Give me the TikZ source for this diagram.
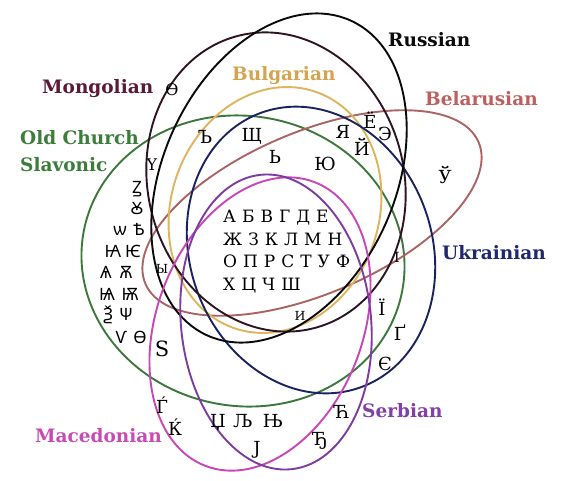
\documentclass[tikz,border=0pt]{standalone}
\usepackage{fontspec}
\setmainfont{DejaVu Serif}
\newfontfamily\ocsfont{Noto Sans}
\definecolor{rusC}{RGB}{10,10,10}
\definecolor{monC}{RGB}{45,20,35}
\definecolor{monL}{RGB}{90,25,55}
\definecolor{bulC}{RGB}{222,180,95}
\definecolor{bulL}{RGB}{212,165,80}
\definecolor{belC}{RGB}{170,100,100}
\definecolor{belL}{RGB}{190,95,95}
\definecolor{ocsC}{RGB}{60,120,60}
\definecolor{ocsL}{RGB}{60,125,60}
\definecolor{ukrC}{RGB}{25,35,95}
\definecolor{ukrL}{RGB}{30,40,110}
\definecolor{serC}{RGB}{125,60,160}
\definecolor{serL}{RGB}{128,64,168}
\definecolor{macC}{RGB}{200,70,185}
\definecolor{macL}{RGB}{200,75,180}
\newcommand{\lgap}{\hspace{6pt}}
\tikzset{
  ring/.style={line width=1.9pt},
  lab/.style={font=\bfseries\fontsize{18.5}{18.5}\selectfont, inner sep=0pt, anchor=base west},
  ltr/.style={font=\fontsize{18}{18}\selectfont, inner sep=0pt, anchor=base},
  sml/.style={font=\fontsize{12.5}{12.5}\selectfont, inner sep=0pt, anchor=base},
  ocs/.style={font=\ocsfont\fontsize{17}{17}\selectfont, inner sep=0pt, anchor=base},
  row/.style={font=\fontsize{17}{17}\selectfont, inner sep=0pt, anchor=base west},
}
\begin{document}
\begin{tikzpicture}[x=1pt,y=-1pt]
\useasboundingbox[fill=white] (0,0) rectangle (565,480);
% ellipses
\draw[ring,ocsC,rotate around={-10:(243,261)}] (243,261) ellipse [x radius=162pt, y radius=145pt];
\draw[ring,belC,rotate around={23:(312,213)}] (312,213) ellipse [x radius=181pt, y radius=81pt];
\draw[ring,bulC,rotate around={-19:(275,210)}] (275,210) ellipse [x radius=104pt, y radius=125pt];
\draw[ring,ukrC,rotate around={20:(311,250)}] (311,250) ellipse [x radius=121pt, y radius=146pt];
\draw[ring,monC,rotate around={15:(276,182)}] (276,182) ellipse [x radius=128pt, y radius=151pt];
\draw[ring,rusC,rotate around={-24.6:(279,178)}] (279,178) ellipse [x radius=116pt, y radius=173pt];
\draw[ring,macC,rotate around={-21:(260,324)}] (260,324) ellipse [x radius=103pt, y radius=152pt];
\draw[ring,serC,rotate around={6:(276,322)}] (276,322) ellipse [x radius=95pt, y radius=148pt];
% labels
\node[lab,text=rusC] (lRus) at (388,46) {Russian};
\node[lab,text=bulL] (lBul) at (232,80) {Bulgarian};
\node[lab,text=monL] (lMon) at (42,93) {Mongolian};
\node[lab,text=belL] (lBel) at (425,105) {Belarusian};
\node[lab,text=ocsL] (lOcs1) at (20,144) {Old Church};
\node[lab,text=ocsL] (lOcs2) at (20,171) {Slavonic};
\node[lab,text=ukrL] (lUkr) at (442,259) {Ukrainian};
\node[lab,text=serL] (lSer) at (362,417) {Serbian};
\node[lab,text=macL] (lMac) at (35,442) {Macedonian};
% Mongolian
\node[ltr,font=\fontsize{16}{16}\selectfont] (mO) at (172,95) {Ө};
\node[ltr,font=\fontsize{16}{16}\selectfont] (mY) at (152,170) {Ү};
% upper letters
\node[ltr] (cHard) at (205,143) {Ъ};
\node[ltr] (cShch) at (252,141) {Щ};
\node[ltr] (cSoft) at (275,163) {Ь};
\node[ltr] (cYu) at (325,170) {Ю};
\node[ltr] (cYa) at (343,138) {Я};
\node[ltr] (cYo) at (370,128) {Ё};
\node[ltr] (cE) at (385,140) {Э};
\node[ltr] (cJ) at (362,155) {Й};
\node[ltr] (cU) at (445,183) {Ў};
% common block
\node[row] (r1) at (223,222) {А\lgap Б\lgap В\lgap Г\lgap Д\lgap Е};
\node[row] (r2) at (223,245) {Ж\lgap З\lgap К\lgap Л\lgap М\lgap Н};
\node[row] (r3) at (223,267) {О\lgap П\lgap Р\lgap С\lgap Т\lgap У\lgap Ф};
\node[row] (r4) at (223,290) {Х\lgap Ц\lgap Ч\lgap Ш};
\node[sml] (cI) at (300,320) {И};
\node[sml] (cY) at (162,273) {Ы};
\node[ltr,font=\fontsize{21}{21}\selectfont] (cDz) at (162,356) {Ѕ};
% Old Church Slavonic
\node[ocs] (o1) at (137,193) {Ꙁ};
\node[ocs] (o2) at (137,214) {Ꙋ};
\node[ocs] (o3) at (120,235) {ѡ};
\node[ocs] (o4) at (139,235) {Ѣ};
\node[ocs] (o5) at (113,257) {Ꙗ};
\node[ocs] (o6) at (133,257) {Ѥ};
\node[ocs] (o7) at (106,278) {Ѧ};
\node[ocs] (o8) at (126,278) {Ѫ};
\node[ocs] (o9) at (107,300) {Ѩ};
\node[ocs] (o10) at (130,300) {Ѭ};
\node[ocs] (o11) at (108,320) {Ѯ};
\node[ocs] (o12) at (126,320) {Ѱ};
\node[ocs] (o13) at (121,343) {Ѵ};
\node[ocs] (o14) at (140,343) {Ѳ};
% Ukrainian
\node[sml,font=\fontsize{14}{14}\selectfont] (uI) at (397,262) {І};
\node[ltr] (uYi) at (382,315) {Ї};
\node[ltr] (uG) at (400,340) {Ґ};
\node[ltr] (uYe) at (385,370) {Є};
% Macedonian / Serbian
\node[ltr] (mGj) at (162,413) {Ѓ};
\node[ltr] (mKj) at (175,435) {Ќ};
\node[ltr] (sDzh) at (218,427) {Џ};
\node[ltr] (sLj) at (243,427) {Љ};
\node[ltr] (sNj) at (273,427) {Њ};
\node[ltr] (sJe) at (257,454) {Ј};
\node[ltr] (sTsh) at (342,418) {Ћ};
\node[ltr] (sDj) at (320,445) {Ђ};
\end{tikzpicture}
\end{document}
